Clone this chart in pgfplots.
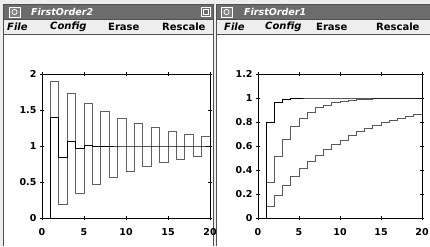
\documentclass[border=0pt]{standalone}
\usepackage{fontspec}
\setmainfont{DejaVu Sans}
\usepackage{pgfplots}
\pgfplotsset{compat=1.18}
\definecolor{titlebg}{HTML}{6C6C6C}
\definecolor{menubg}{HTML}{EEEEEE}
\definecolor{frame}{HTML}{505050}
\pgfplotsset{
  winax/.style={
    anchor=south west, scale only axis,
    xmin=0, xmax=20, ymin=0,
    xtick={0,5,10,15,20},
    tick align=center, major tick length=4pt,
    ticklabel style={font=\fontsize{9.5}{11}\selectfont\bfseries},
    /pgf/number format/assume math mode=true,
    axis line style={black, line width=0.8pt},
    tick style={black, line width=0.7pt},
    xticklabel shift=5pt,
    every axis plot/.append style={const plot, line width=0.7pt, mark=none},
  }
}
\begin{document}
\begin{tikzpicture}[x=1pt,y=1pt]
\useasboundingbox (0,0) rectangle (430,246);
\fill[white!93!black] (0,0) rectangle (430,246);
% window bodies
\fill[white] (4,0) rectangle (212.5,212);
\fill[white] (217,0) rectangle (430,212);
% title bars
\fill[titlebg] (4,227) rectangle (212.5,241);
\fill[titlebg] (217,227) rectangle (430,241);
% menu bars
\fill[menubg] (4,212) rectangle (212.5,227);
\fill[menubg] (217,212) rectangle (430,227);
\draw[frame, line width=0.6pt] (4,212) -- (212.5,212);
\draw[frame, line width=0.6pt] (217,212) -- (430,212);
\draw[frame, line width=0.6pt] (4,227) -- (212.5,227);
\draw[frame, line width=0.6pt] (217,227) -- (430,227);
% frame lines
\draw[frame, line width=1pt] (3.5,0) -- (3.5,241.5) -- (212.5,241.5);
\draw[frame, line width=1pt] (213,0) -- (213,241.5);
\draw[frame, line width=1pt] (216.5,0) -- (216.5,241.5) -- (430,241.5);
% icons
\foreach \x in {9,221} {
  \draw[white, line width=0.7pt, fill=gray] (\x,229) rectangle ++(11,10);
  \draw[white, line width=0.8pt] (\x+5.5,234) circle (2.6);
}
\draw[white, line width=0.7pt] (201,229.5) rectangle ++(9,9);
\draw[white, line width=0.5pt] (203,231.5) rectangle ++(5,5);
% titles
\node[anchor=west, text=white, inner sep=0pt, font=\fontsize{9.5}{11}\selectfont\bfseries\itshape] at (31,234) {FirstOrder2};
\node[anchor=west, text=white, inner sep=0pt, font=\fontsize{9.5}{11}\selectfont\bfseries\itshape] at (244,234) {FirstOrder1};
% menus
\begin{scope}[every node/.style={anchor=west, inner sep=0pt, font=\fontsize{10}{12}\selectfont\bfseries}]
\node[font=\fontsize{10}{12}\selectfont\bfseries\itshape] at (7,219.5) {File};
\node[font=\fontsize{10}{12}\selectfont\bfseries\itshape] at (50,219.5) {Config};
\node at (108,219.5) {Erase};
\node at (162,219.5) {Rescale};
\node[font=\fontsize{10}{12}\selectfont\bfseries\itshape] at (224,219.5) {File};
\node[font=\fontsize{10}{12}\selectfont\bfseries\itshape] at (265,219.5) {Config};
\node at (316,219.5) {Erase};
\node at (376,219.5) {Rescale};
\end{scope}

\begin{axis}[winax, at={(42pt,28pt)}, width=168pt, height=144pt,
  ymax=2, ytick={0,0.5,1,1.5,2}]
\addplot[gray!75!black] coordinates {(0,0)(1,1.9)(2,0.19)(3,1.729)(4,0.344)(5,1.590)(6,0.469)(7,1.478)(8,0.570)(9,1.387)(10,0.651)(11,1.314)(12,0.718)(13,1.254)(14,0.771)(15,1.206)(16,0.815)(17,1.167)(18,0.850)(19,1.135)(20,1.135)};
\addplot[black] coordinates {(0,0)(1,1.4)(2,0.84)(3,1.064)(4,0.974)(5,1.010)(6,0.996)(7,1.002)(8,1)(9,1)(10,1)(11,1)(12,1)(13,1)(14,1)(15,1)(16,1)(17,1)(18,1)(19,1)(20,1)};
\end{axis}

\begin{axis}[winax, at={(258pt,28pt)}, width=164pt, height=144pt,
  ymax=1.2, ytick={0,0.2,0.4,0.6,0.8,1,1.2}]
\addplot[gray!70!black] coordinates {(0,0)(1,0.1)(2,0.19)(3,0.271)(4,0.344)(5,0.410)(6,0.469)(7,0.522)(8,0.570)(9,0.613)(10,0.651)(11,0.686)(12,0.718)(13,0.746)(14,0.771)(15,0.794)(16,0.815)(17,0.833)(18,0.850)(19,0.865)(20,0.878)};
\addplot[gray!70!black] coordinates {(0,0)(1,0.3)(2,0.51)(3,0.657)(4,0.760)(5,0.832)(6,0.882)(7,0.918)(8,0.942)(9,0.960)(10,0.972)(11,0.980)(12,0.986)(13,0.990)(14,0.993)(15,0.995)(16,0.997)(17,0.998)(18,0.998)(19,0.999)(20,0.999)};
\addplot[black] coordinates {(0,0)(1,0.8)(2,0.96)(3,0.992)(4,0.998)(5,1)(6,1)(7,1)(8,1)(9,1)(10,1)(11,1)(12,1)(13,1)(14,1)(15,1)(16,1)(17,1)(18,1)(19,1)(20,1)};
\end{axis}
\end{tikzpicture}
\end{document}
